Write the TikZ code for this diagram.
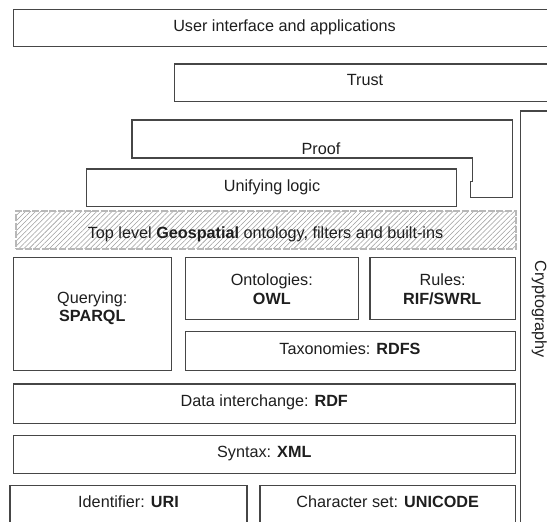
\documentclass[tikz,border=0pt]{standalone}
\usepackage{fontspec}
\setmainfont{Liberation Sans}
\usetikzlibrary{patterns.meta}
\definecolor{linec}{HTML}{464646}
\definecolor{txtc}{HTML}{1E1E1E}
\tikzset{
  box/.style={draw=linec, line width=1.2pt, fill=white, inner sep=0pt, outer sep=0pt},
  txt/.style={anchor=base, inner sep=0pt, text=txtc, font=\fontsize{16.2}{19}\selectfont},
  geoband/.style={draw=black!28, line width=2pt, dash pattern=on 7pt off 1.6pt,
    pattern={Lines[angle=45, distance=3.6pt, line width=0.55pt]}, pattern color=black!38,
    inner sep=0pt, outer sep=0pt},
}
\newcommand{\boxat}[5]{% name, left, top, right, bottom
  \node[box, minimum width={(#4-#2)*1pt}, minimum height={(#5-#3)*1pt}] (#1) at ({(#2+#4)/2},{(#3+#5)/2}) {};}
\begin{document}
\begin{tikzpicture}[x=1pt, y=-1pt]
\useasboundingbox (0,0) rectangle (547,522);
\clip (0,0) rectangle (547,522);
\fill[white] (0,0) rectangle (547,522);

% boxes
\boxat{user}{13.3}{9.3}{580}{46.3}
\boxat{trust}{174.3}{64}{580}{101.7}
\boxat{crypto}{520.7}{111}{580}{560}
\draw[linec, line width=1.2pt, fill=white]
  (132,120) -- (512.7,120) -- (512.7,197.2) -- (470.7,197.2) -- (470.7,181.7)
  -- (472.3,181.7) -- (472.3,158) -- (132,158) -- cycle;
\boxat{unify}{86.7}{169}{456.7}{206.7}
\node[geoband, minimum width=500pt, minimum height=37.7pt] (geo) at (266,229.85) {};
\boxat{query}{13.3}{257.3}{171.3}{370.7}
\boxat{onto}{185.3}{257.3}{358.3}{319.3}
\boxat{rules}{370}{257.3}{515.3}{319.3}
\boxat{taxo}{185.3}{331.7}{515.3}{370.7}
\boxat{rdf}{13.3}{384}{515.3}{423.3}
\boxat{xml}{13.3}{435.7}{515.3}{473.3}
\boxat{uri}{10}{485.7}{247}{560}
\boxat{unicode}{260}{485.7}{515.3}{560}

% texts
\node[txt] (userT) at (284.5,31.5) {User interface and applications};
\node[txt] (trustT) at (365,85.7) {Trust};
\node[txt] (proofT) at (321,154.3) {Proof};
\node[txt] (unifyT) at (272,191) {Unifying logic};
\node[txt] (geoT) at (265.5,238.3) {Top level \textbf{Geospatial} ontology, filters and built-ins};
\node[txt] (queryT1) at (92.3,303.3) {Querying:};
\node[txt] (queryT2) at (92.3,321.7) {\textbf{SPARQL}};
\node[txt] (ontoT1) at (271.8,285) {Ontologies:};
\node[txt] (ontoT2) at (271.8,304.7) {\textbf{OWL}};
\node[txt] (rulesT1) at (442.7,285) {Rules:};
\node[txt] (rulesT2) at (442.2,304.7) {\textbf{RIF/SWRL}};
\node[txt] (taxoT) at (350,354.3) {Taxonomies: \textbf{RDFS}};
\node[txt] (rdfT) at (264.3,406.7) {Data interchange: \textbf{RDF}};
\node[txt] (xmlT) at (264.3,457.3) {Syntax: \textbf{XML}};
\node[txt] (uriT) at (128.5,507.3) {Identifier: \textbf{URI}};
\node[txt] (unicodeT) at (387.7,507.3) {Character set: \textbf{UNICODE}};
\node[txt, rotate=-90] (cryptoT) at (535,309.3) {Cryptography};
\end{tikzpicture}
\end{document}
